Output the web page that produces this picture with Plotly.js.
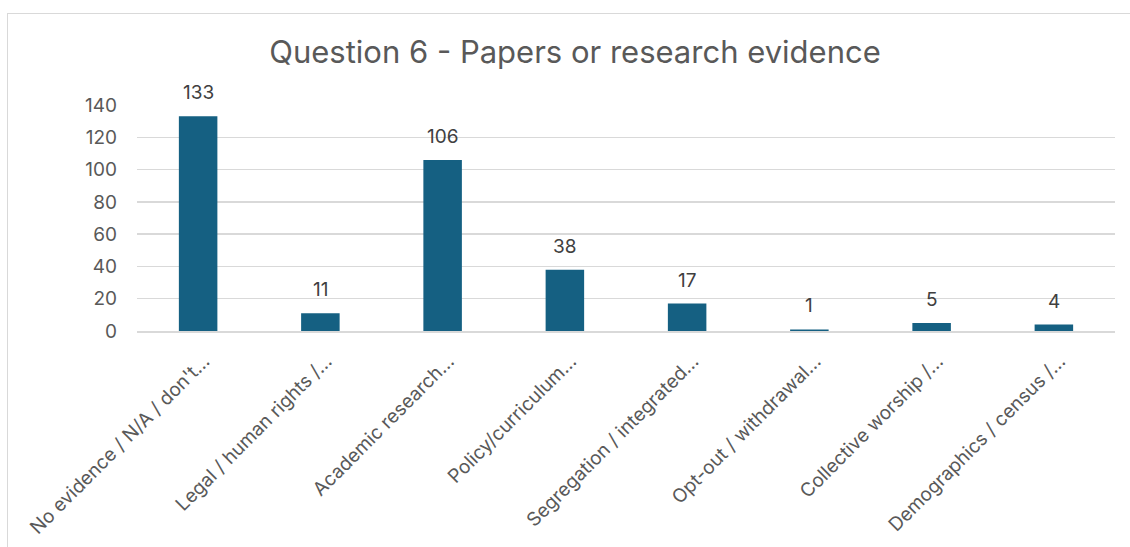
<!DOCTYPE html>
<html>
<head>
<meta charset="utf-8">
<script src="https://cdn.plot.ly/plotly-3.0.1.min.js"></script>
<style>
  html, body { margin: 0; padding: 0; background: #ffffff; }
  #wrap { position: relative; width: 1130px; height: 547px; overflow: hidden; }
  #frame { position: absolute; left: 7px; top: 13px; width: 1140px; height: 560px;
           border-left: 1.5px solid #d9d9d9; border-top: 1.5px solid #d9d9d9; box-sizing: border-box; }
  #chart { position: absolute; left: 0; top: 0; width: 1130px; height: 547px; }
</style>
</head>
<body>
<div id="wrap">
  <div id="frame"></div>
  <div id="chart"></div>
</div>
<script>
// Response categories (labels as shortened on the axis)
const categories = [
  "No evidence / N/A / don't…",
  "Legal / human rights /…",
  "Academic research…",
  "Policy/curriculum…",
  "Segregation / integrated…",
  "Opt-out / withdrawal…",
  "Collective worship /…",
  "Demographics / census /…"
];

// Number of responses per category
const counts = [133, 11, 106, 38, 17, 1, 5, 4];

const yTicks = [0, 20, 40, 60, 80, 100, 120, 140];

const FONT = 'Inter, "Liberation Sans", Arial, sans-serif';
const BAR = '#156082';
const TEXT = '#595959';

const trace = {
  type: 'bar',
  x: categories,
  y: counts,
  marker: { color: BAR },
  hoverinfo: 'x+y'
};

// Value labels above each bar
const valueLabels = categories.map((c, i) => ({
  x: c,
  y: counts[i],
  xref: 'x',
  yref: 'y',
  text: String(counts[i]),
  showarrow: false,
  yanchor: 'bottom',
  yshift: 10,
  font: { family: FONT, size: 19, color: '#404040' }
}));

const layout = {
  width: 1130,
  height: 547,
  paper_bgcolor: 'rgba(0,0,0,0)',
  plot_bgcolor: 'rgba(0,0,0,0)',
  margin: { l: 137, r: 15, t: 105, b: 216 },
  bargap: 0.685,
  showlegend: false,
  title: {
    text: 'Question 6 - Papers or research evidence',
    x: 575 / 1130,
    xref: 'container',
    xanchor: 'center',
    y: 1 - 52 / 547,
    yref: 'container',
    yanchor: 'middle',
    font: { family: FONT, size: 31, color: TEXT }
  },
  xaxis: {
    type: 'category',
    tickangle: -45,
    tickfont: { family: FONT, size: 19, color: TEXT },
    ticks: '',
    ticklabelstandoff: 10,
    ticklabelshift: 6,
    showgrid: false,
    showline: true,
    linecolor: '#d9d9d9',
    linewidth: 1.5,
    fixedrange: true
  },
  yaxis: {
    range: [0, 140],
    tickvals: yTicks,
    ticktext: yTicks.map(String),
    tickfont: { family: FONT, size: 19, color: TEXT },
    ticks: '',
    ticklabelstandoff: 19,
    showgrid: true,
    gridcolor: '#d9d9d9',
    gridwidth: 1.5,
    zeroline: false,
    showline: false,
    fixedrange: true
  },
  annotations: valueLabels
};

Plotly.newPlot('chart', [trace], layout, { displayModeBar: false, staticPlot: true });
</script>
</body>
</html>
